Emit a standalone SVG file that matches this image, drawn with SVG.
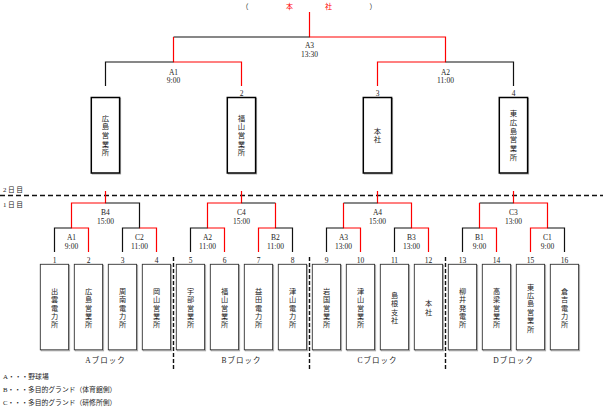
<svg xmlns="http://www.w3.org/2000/svg" width="603" height="410" viewBox="0 0 603 410">
<style>
.bk{stroke:#111;stroke-width:1.2;fill:none}
.rd{stroke:#ff0000;stroke-width:1.2;fill:none}
.t{font-family:"Liberation Serif","Noto Sans CJK JP",serif;font-size:7.5px;fill:#222;text-anchor:middle}
.j{font-family:"Noto Sans CJK JP",sans-serif;font-size:7px;fill:#222;text-anchor:middle}
.v{font-family:"Noto Sans CJK JP",sans-serif;font-size:7.2px;fill:#222;text-anchor:middle;writing-mode:vertical-rl;letter-spacing:1.2px}
.vt{font-family:"Noto Sans CJK JP",sans-serif;font-size:7.4px;fill:#222;text-anchor:middle;writing-mode:vertical-rl;letter-spacing:1.3px}
.jl{font-family:"Liberation Serif","Noto Sans CJK JP",serif;font-size:6.8px;fill:#222}
.tb{fill:#fff;stroke:#000;stroke-width:1.5}
.bb{fill:#fff;stroke:#333;stroke-width:0.9}
.sh{fill:none;stroke:#aaa;stroke-width:1}
.sep{stroke:#111;stroke-width:1.4;stroke-dasharray:4 2}
</style>
<g id="title">
<text class="j" x="245" y="8.5">（</text>
<text class="j" x="289.5" y="8.5" style="fill:#ff0000">本</text>
<text class="j" x="328.5" y="8.5" style="fill:#ff0000">社</text>
<text class="j" x="373" y="8.5">）</text>
</g>
<g id="day-labels">
<text class="jl" x="3" y="191.5" letter-spacing="1.5">2日目</text>
<text class="jl" x="3" y="206.5" letter-spacing="1.5">1日目</text>
<line x1="0" y1="195.5" x2="603" y2="195.5" stroke="#111" stroke-width="1.5" stroke-dasharray="5 3"/>
</g>
<g id="connectors">
<path class="rd" d="M309.5 12V37H445.5V62H377.5V86"/>
<path class="bk" d="M173.5 37H309.5"/>
<path class="rd" d="M173.5 37V62H241.5V86"/>
<path class="bk" d="M173.5 62H105.5V86"/>
<path class="bk" d="M445.5 62H513.5V86"/>
<path class="rd" d="M105.5 191V203H71.5V228H88.5V252"/>
<path class="bk" d="M105.5 203H139.5V228H122.5V252M71.5 228H54.5V252"/>
<path class="rd" d="M139.5 228H156.5V252"/>
<path class="rd" d="M241.5 191V203H207.5V228H224.5V252"/>
<path class="bk" d="M241.5 203H275.5M207.5 228H190.5V252"/>
<path class="rd" d="M275.5 203V228H258.5V252"/>
<path class="bk" d="M275.5 228H292.5V252"/>
<path class="rd" d="M377.5 191V203H411.5V228H428.5V252"/>
<path class="bk" d="M377.5 203H343.5"/>
<path class="rd" d="M343.5 203V228H360.5V252"/>
<path class="bk" d="M343.5 228H326.5V252M411.5 228H394.5V252"/>
<path class="rd" d="M513.5 191V203H547.5V228H530.5V252"/>
<path class="bk" d="M513.5 203H479.5"/>
<path class="rd" d="M479.5 203V228H496.5V252"/>
<path class="bk" d="M479.5 228H462.5V252M547.5 228H564.5V252"/>
</g>
<g id="match-labels">
<text class="t" x="309.5" y="48">A3</text><text class="t" x="309.5" y="56.5">13:30</text>
<text class="t" x="173.5" y="74.5">A1</text><text class="t" x="173.5" y="82.5">9:00</text>
<text class="t" x="445.5" y="74.5">A2</text><text class="t" x="445.5" y="82.5">11:00</text>
<text class="t" x="105.5" y="215">B4</text><text class="t" x="105.5" y="223.5">15:00</text>
<text class="t" x="241.5" y="215">C4</text><text class="t" x="241.5" y="223.5">15:00</text>
<text class="t" x="377.5" y="215">A4</text><text class="t" x="377.5" y="223.5">15:00</text>
<text class="t" x="513.5" y="215">C3</text><text class="t" x="513.5" y="223.5">13:00</text>
<text class="t" x="71.5" y="240">A1</text><text class="t" x="71.5" y="248.5">9:00</text>
<text class="t" x="139.5" y="240">C2</text><text class="t" x="139.5" y="248.5">11:00</text>
<text class="t" x="207.5" y="240">A2</text><text class="t" x="207.5" y="248.5">11:00</text>
<text class="t" x="275.5" y="240">B2</text><text class="t" x="275.5" y="248.5">11:00</text>
<text class="t" x="343.5" y="240">A3</text><text class="t" x="343.5" y="248.5">13:00</text>
<text class="t" x="411.5" y="240">B3</text><text class="t" x="411.5" y="248.5">13:00</text>
<text class="t" x="479.5" y="240">B1</text><text class="t" x="479.5" y="248.5">9:00</text>
<text class="t" x="547.5" y="240">C1</text><text class="t" x="547.5" y="248.5">9:00</text>
</g>
<g id="top-hiroshima">
<rect class="sh" x="92.3" y="98.5" width="28.3" height="75.5"/>
<rect class="tb" x="91.3" y="97.5" width="28.3" height="75.5"/>
<text class="vt" x="105.5" y="135.8">広島営業所</text>
</g>
<g id="top-fukuyama">
<text class="t" x="241.5" y="95.5">2</text>
<rect class="sh" x="228.3" y="98.5" width="28.3" height="75.5"/>
<rect class="tb" x="227.3" y="97.5" width="28.3" height="75.5"/>
<text class="vt" x="241.5" y="135.8">福山営業所</text>
</g>
<g id="top-honsha">
<text class="t" x="377.5" y="95.5">3</text>
<rect class="sh" x="364.3" y="98.5" width="28.3" height="75.5"/>
<rect class="tb" x="363.3" y="97.5" width="28.3" height="75.5"/>
<text class="vt" x="377.5" y="135.8">本社</text>
</g>
<g id="top-higashihiroshima">
<text class="t" x="513.5" y="95.5">4</text>
<rect class="sh" x="500.3" y="98.5" width="28.3" height="75.5"/>
<rect class="tb" x="499.3" y="97.5" width="28.3" height="75.5"/>
<text class="vt" x="513.5" y="135.8">東広島営業所</text>
</g>
<g id="n1"><text class="t" x="54.5" y="262.5">1</text><rect class="sh" x="41.3" y="265.3" width="28.3" height="85.5"/><rect class="bb" x="40.3" y="264.3" width="28.3" height="85.5"/><text class="v" x="54.5" y="308.5">出雲電力所</text></g>
<g id="n2"><text class="t" x="88.5" y="262.5">2</text><rect class="sh" x="75.3" y="265.3" width="28.3" height="85.5"/><rect class="bb" x="74.3" y="264.3" width="28.3" height="85.5"/><text class="v" x="88.5" y="308.5">広島営業所</text></g>
<g id="n3"><text class="t" x="122.5" y="262.5">3</text><rect class="sh" x="109.3" y="265.3" width="28.3" height="85.5"/><rect class="bb" x="108.3" y="264.3" width="28.3" height="85.5"/><text class="v" x="122.5" y="308.5">周南電力所</text></g>
<g id="n4"><text class="t" x="156.5" y="262.5">4</text><rect class="sh" x="143.3" y="265.3" width="28.3" height="85.5"/><rect class="bb" x="142.3" y="264.3" width="28.3" height="85.5"/><text class="v" x="156.5" y="308.5">岡山営業所</text></g>
<g id="n5"><text class="t" x="190.5" y="262.5">5</text><rect class="sh" x="177.3" y="265.3" width="28.3" height="85.5"/><rect class="bb" x="176.3" y="264.3" width="28.3" height="85.5"/><text class="v" x="190.5" y="308.5">宇部営業所</text></g>
<g id="n6"><text class="t" x="224.5" y="262.5">6</text><rect class="sh" x="211.3" y="265.3" width="28.3" height="85.5"/><rect class="bb" x="210.3" y="264.3" width="28.3" height="85.5"/><text class="v" x="224.5" y="308.5">福山営業所</text></g>
<g id="n7"><text class="t" x="258.5" y="262.5">7</text><rect class="sh" x="245.3" y="265.3" width="28.3" height="85.5"/><rect class="bb" x="244.3" y="264.3" width="28.3" height="85.5"/><text class="v" x="258.5" y="308.5">益田電力所</text></g>
<g id="n8"><text class="t" x="292.5" y="262.5">8</text><rect class="sh" x="279.3" y="265.3" width="28.3" height="85.5"/><rect class="bb" x="278.3" y="264.3" width="28.3" height="85.5"/><text class="v" x="292.5" y="308.5">津山電力所</text></g>
<g id="n9"><text class="t" x="326.5" y="262.5">9</text><rect class="sh" x="313.3" y="265.3" width="28.3" height="85.5"/><rect class="bb" x="312.3" y="264.3" width="28.3" height="85.5"/><text class="v" x="326.5" y="308.5">岩国営業所</text></g>
<g id="n10"><text class="t" x="360.5" y="262.5">10</text><rect class="sh" x="347.3" y="265.3" width="28.3" height="85.5"/><rect class="bb" x="346.3" y="264.3" width="28.3" height="85.5"/><text class="v" x="360.5" y="308.5">津山営業所</text></g>
<g id="n11"><text class="t" x="394.5" y="262.5">11</text><rect class="sh" x="381.3" y="265.3" width="28.3" height="85.5"/><rect class="bb" x="380.3" y="264.3" width="28.3" height="85.5"/><text class="v" x="394.5" y="308.5">島根支社</text></g>
<g id="n12"><text class="t" x="428.5" y="262.5">12</text><rect class="sh" x="415.3" y="265.3" width="28.3" height="85.5"/><rect class="bb" x="414.3" y="264.3" width="28.3" height="85.5"/><text class="v" x="428.5" y="308.5">本社</text></g>
<g id="n13"><text class="t" x="462.5" y="262.5">13</text><rect class="sh" x="449.3" y="265.3" width="28.3" height="85.5"/><rect class="bb" x="448.3" y="264.3" width="28.3" height="85.5"/><text class="v" x="462.5" y="308.5">柳井発電所</text></g>
<g id="n14"><text class="t" x="496.5" y="262.5">14</text><rect class="sh" x="483.3" y="265.3" width="28.3" height="85.5"/><rect class="bb" x="482.3" y="264.3" width="28.3" height="85.5"/><text class="v" x="496.5" y="308.5">高梁営業所</text></g>
<g id="n15"><text class="t" x="530.5" y="262.5">15</text><rect class="sh" x="517.3" y="265.3" width="28.3" height="85.5"/><rect class="bb" x="516.3" y="264.3" width="28.3" height="85.5"/><text class="v" x="530.5" y="308.5">東広島営業所</text></g>
<g id="n16"><text class="t" x="564.5" y="262.5">16</text><rect class="sh" x="551.3" y="265.3" width="28.3" height="85.5"/><rect class="bb" x="550.3" y="264.3" width="28.3" height="85.5"/><text class="v" x="564.5" y="308.5">倉吉電力所</text></g>
<g id="separators">
<line class="sep" x1="173.5" y1="257" x2="173.5" y2="370"/>
<line class="sep" x1="309.5" y1="257" x2="309.5" y2="370"/>
<line class="sep" x1="445.5" y1="257" x2="445.5" y2="370"/>
</g>
<g id="block-labels">
<text class="t" x="105.5" y="363" letter-spacing="1">Aブロック</text>
<text class="t" x="241.5" y="363" letter-spacing="1">Bブロック</text>
<text class="t" x="377.5" y="363" letter-spacing="1">Cブロック</text>
<text class="t" x="513.5" y="363" letter-spacing="1">Dブロック</text>
</g>
<g id="legend">
<text class="jl" x="3" y="379">A・・・野球場</text>
<text class="jl" x="3" y="392">B・・・多目的グランド（体育館側）</text>
<text class="jl" x="3" y="405">C・・・多目的グランド（研修所側）</text>
</g>
</svg>
